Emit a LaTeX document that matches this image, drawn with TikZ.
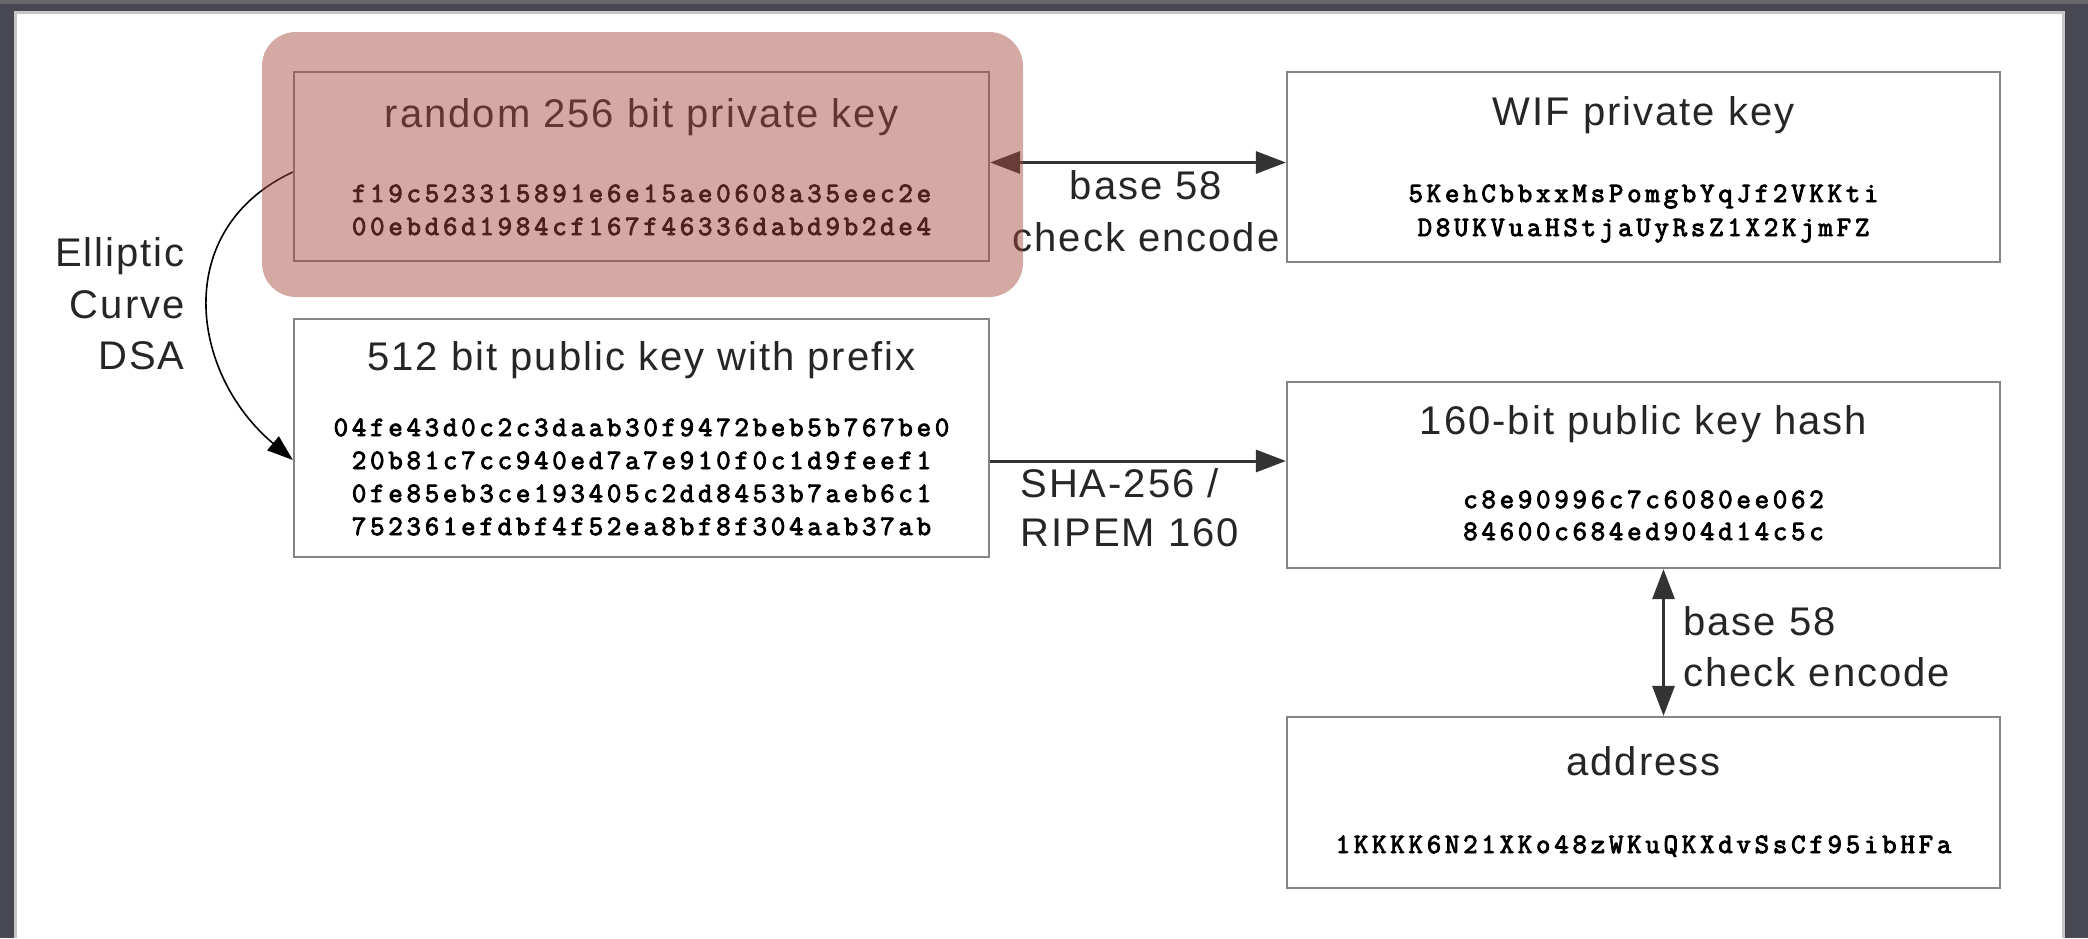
\documentclass[tikz,border=0pt]{standalone}
\usepackage{fontspec}
\setmainfont{Liberation Sans}
\newfontfamily\lblfamily{Liberation Sans}[LetterSpace=5]
\usetikzlibrary{arrows.meta}

\definecolor{frameDark}{HTML}{474852}
\definecolor{frameTop}{HTML}{66666B}
\definecolor{frameEdge}{HTML}{C6C6C6}
\definecolor{boxline}{HTML}{858585}
\definecolor{ink}{HTML}{262626}
\definecolor{wire}{HTML}{333333}
\definecolor{highlight}{RGB}{164,74,62}

% hex strings: heavy monospace with extra tracking between characters
\makeatletter
\newdimen\hx@kern \hx@kern=1.9pt
\def\hx@loop#1{\ifx\relax#1\else\kern\hx@kern#1\expandafter\hx@loop\fi}
\newcommand\hexline[1]{\special{pdf:literal direct 2 Tr 0.45 w}%
  \kern-\hx@kern\hx@loop#1\relax\special{pdf:literal direct 0 Tr}}
\makeatother

\newcommand\lblsize{\lblfamily\fontsize{20pt}{24pt}\selectfont}
\newcommand\hexsize{\ttfamily\fontsize{14pt}{16pt}\selectfont}

\begin{document}
\begin{tikzpicture}[x=0.5pt,y=0.5pt,
  keybox/.style={draw=boxline, line width=1.1pt, fill=white, inner sep=0pt,
                 minimum width=356.5pt},
  ttl/.style={font=\lblsize, text=ink, anchor=base, inner sep=0pt},
  hexl/.style={font=\hexsize, text=black, anchor=base, inner sep=0pt},
  lblw/.style={font=\lblsize, text=ink, anchor=base west, inner sep=0pt},
  lblc/.style={font=\lblsize, text=ink, anchor=base, inner sep=0pt},
  lble/.style={font=\lblsize, text=ink, anchor=base east, inner sep=0pt},
  dblarrow/.style={draw=wire, line width=1.5pt,
    {Triangle[length=15pt,width=11pt]}-{Triangle[length=15pt,width=11pt]}},
  onearrow/.style={draw=wire, line width=1.5pt, -{Triangle[length=15pt,width=11pt]}},
  curvearrow/.style={draw=black, line width=0.8pt, -{Triangle[length=13pt,width=9pt]}},
]
\useasboundingbox (0,0) rectangle (2088,-938);
\fill[white] (0,0) rectangle (2088,-938);

% window frame
\fill[frameDark] (0,0) rectangle (14,-938);
\fill[frameDark] (0,0) rectangle (2088,-11);
\fill[frameDark] (2065,0) rectangle (2088,-938);
\fill[frameTop] (0,0) rectangle (2088,-4);
\draw[frameEdge, line width=1.5pt] (15.5,-938) -- (15.5,-12.5) -- (2063.5,-12.5) -- (2063.5,-938);

% key boxes
\node[keybox, minimum width=347.5pt, minimum height=94.5pt] (priv) at (641.5,-166.5) {};
\node[keybox, minimum height=95pt]   (wif)  at (1643.5,-167) {};
\node[keybox, minimum width=347.5pt, minimum height=119pt] (pub) at (641.5,-438) {};
\node[keybox, minimum height=93pt]   (hash) at (1643.5,-475) {};
\node[keybox, minimum height=85.5pt] (addr) at (1643.5,-802.5) {};

% box contents
\node[ttl] (privT) at (641.5,-127) {random 256 bit private key};
\node[hexl] (privA) at (641.5,-202) {\hexline{f19c523315891e6e15ae0608a35eec2e}};
\node[hexl] (privB) at (641.5,-235) {\hexline{00ebd6d1984cf167f46336dabd9b2de4}};

\node[ttl] (wifT) at (1643.5,-125) {WIF private key};
\node[hexl] (wifA) at (1643.5,-202) {\hexline{5KehCbbxxMsPomgbYqJf2VKKti}};
\node[hexl] (wifB) at (1643.5,-236) {\hexline{D8UKVuaHStjaUyRsZ1X2KjmFZ}};

\node[ttl] (pubT) at (641.5,-370) {512 bit public key with prefix};
\node[hexl] (pubA) at (641.5,-436) {\hexline{04fe43d0c2c3daab30f9472beb5b767be0}};
\node[hexl] (pubB) at (641.5,-469) {\hexline{20b81c7cc940ed7a7e910f0c1d9feef1}};
\node[hexl] (pubC) at (641.5,-502) {\hexline{0fe85eb3ce193405c2dd8453b7aeb6c1}};
\node[hexl] (pubD) at (641.5,-535) {\hexline{752361efdbf4f52ea8bf8f304aab37ab}};

\node[ttl] (hashT) at (1643.5,-434) {160-bit public key hash};
\node[hexl] (hashA) at (1643.5,-508) {\hexline{c8e90996c7c6080ee062}};
\node[hexl] (hashB) at (1643.5,-540) {\hexline{84600c684ed904d14c5c}};

\node[ttl] (addrT) at (1643.5,-775) {address};
\node[hexl] (addrA) at (1643.5,-853) {\hexline{1KKKK6N21XKo48zWKuQKXdvSsCf95ibHFa}};

% connectors
\draw[dblarrow] ([yshift=2pt]priv.east) -- ([yshift=2pt]priv.east -| wif.west);
\draw[onearrow] ([yshift=-11.5pt]pub.east) -- ([yshift=-11.5pt]pub.east -| hash.west);
\draw[dblarrow] ([xshift=10pt]hash.south) -- ([xshift=10pt]hash.south |- addr.north);
\draw[curvearrow] ([yshift=-2.75pt]priv.west) to[out=205,in=140,looseness=1.2] ([yshift=-11pt]pub.west);

% connector labels
\node[lblc] (encA1) at (1146,-199) {base 58};
\node[lblc] (encA2) at (1146,-251) {check encode};
\node[lblw] (shaA) at (1020,-497) {SHA-256 /};
\node[lblw] (shaB) at (1020,-546) {RIPEM 160};
\node[lblw] (encB1) at (1683,-635) {base 58};
\node[lblw] (encB2) at (1683,-686) {check encode};
\node[lble] (ecA) at (185,-266) {Elliptic};
\node[lble] (ecB) at (185,-318) {Curve};
\node[lble] (ecC) at (185,-369) {DSA};

% translucent highlight over the private key
\fill[highlight, fill opacity=0.47, rounded corners=17pt] (262,-32) rectangle (1023,-297);
\end{tikzpicture}
\end{document}
